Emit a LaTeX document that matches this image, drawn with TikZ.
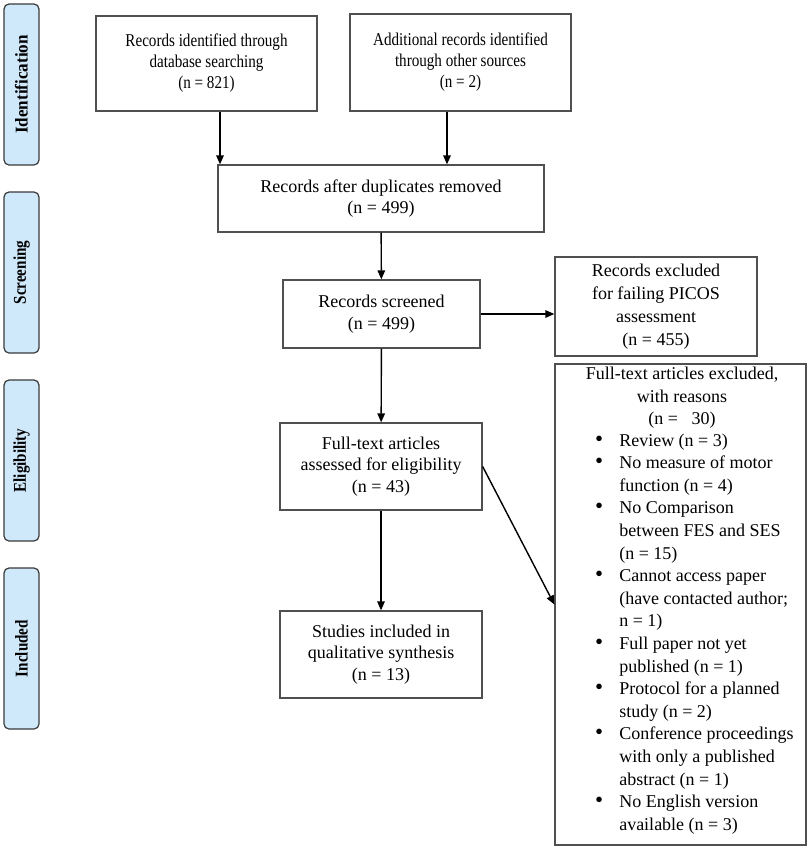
\documentclass[tikz,border=0pt]{standalone}
\usepackage{fontspec}
\setmainfont{Liberation Serif}
\newfontfamily\condfont[FakeStretch=0.84]{Liberation Serif}
\newfontfamily\sidefontA[FakeStretch=0.95]{Liberation Serif}
\newfontfamily\sidefontB[FakeStretch=0.84]{Liberation Serif}
\usetikzlibrary{arrows.meta}
\definecolor{sidefill}{HTML}{CFE8FA}
\definecolor{sidedraw}{HTML}{3A3A3A}
\definecolor{boxgray}{HTML}{505050}
\begin{document}
\begin{tikzpicture}[x=1pt,y=-1pt,
  side/.style={draw=sidedraw, fill=sidefill, rounded corners=5pt, line width=1.2pt,
    minimum width=161, minimum height=35, inner sep=0pt, rotate=90,
    font=\sidefontB\fontsize{18}{20}\selectfont\bfseries},
  box/.style={draw=boxgray, line width=1.3pt, align=center, inner sep=0pt,
    font=\fontsize{18}{21.5}\selectfont},
  smallbox/.style={box, font=\condfont\fontsize{18}{21}\selectfont},
  arr/.style={draw=black, line width=1.4pt, -{Triangle[length=9pt,width=7.5pt]}}]
\useasboundingbox (0,0) rectangle (809,849);

% side labels
\node[side, font=\sidefontA\fontsize{18}{20}\selectfont\bfseries] (idlab) at (21.5,84.5) {Identification};
\node[side] (scrlab) at (21.5,272.5) {Screening};
\node[side] (elilab) at (21.5,460.5) {Eligibility};
\node[side] (inclab) at (21.5,648.5) {Included};

% boxes
\node[smallbox, minimum width=221, minimum height=95] (b1) at (206.5,63.5)
  {Records identified through\\database searching\\(n = 821)};
\node[smallbox, minimum width=221, minimum height=97] (b2) at (460.5,62.5)
  {Additional records identified\\through other sources\\(n = 2)};
\node[box, minimum width=326, minimum height=67] (b3) at (381,198.5)
  {Records after duplicates removed\\(n = 499)};
\node[box, minimum width=197, minimum height=68] (b4) at (381.5,314)
  {Records screened\\(n = 499)};
\node[box, minimum width=202, minimum height=87] (b5) at (381,466.5)
  {Full-text articles\\assessed for eligibility\\(n = 43)};
\node[box, minimum width=202, minimum height=87] (b6) at (381,654.5)
  {Studies included in\\qualitative synthesis\\(n = 13)};
\node[box, minimum width=202, minimum height=99, font=\fontsize{18}{23}\selectfont] (p1) at (656,306.5)
  {Records excluded\\for failing PICOS\\assessment\\(n = 455)};
\node[box, minimum width=251, minimum height=481] (e1) at (680.5,604.5) {};
\node[align=center, inner sep=0pt, font=\fontsize{18}{22.6}\selectfont] (e1h) at (682,398)
  {Full-text articles excluded,\\with reasons\\(n =\ \ \ 30)};
\newcommand{\blt}{{\fontsize{23}{20}\selectfont\textbullet}}
\node[anchor=north west, inner sep=0pt, font=\fontsize{18}{22.6}\selectfont] (e1l) at (595,430)
  {\begin{tabular}{@{}l@{\hspace{16pt}}l@{}}
  \blt & Review (n = 3)\\
  \blt & No measure of motor\\
   & function (n = 4)\\
  \blt & No Comparison\\
   & between FES and SES\\
   & (n = 15)\\
  \blt & Cannot access paper\\
   & (have contacted author;\\
   & n = 1)\\
  \blt & Full paper not yet\\
   & published (n = 1)\\
  \blt & Protocol for a planned\\
   & study (n = 2)\\
  \blt & Conference proceedings\\
   & with only a published\\
   & abstract (n = 1)\\
  \blt & No English version\\
   & available (n = 3)
  \end{tabular}};

% connectors
\coordinate (c1) at (220,0);
\coordinate (c2) at (447,0);
\draw[arr] (b1.south -| c1) -- (b3.north -| c1);
\draw[arr] (b2.south -| c2) -- (b3.north -| c2);
\draw[arr] (b3) -- (b4);
\draw[arr] (b4.east) -- (b4.east -| p1.west);
\draw[arr] (b4) -- (b5);
\draw[arr] (b5) -- (b6);
\draw[arr] (b5.east) -- (e1.west);
\end{tikzpicture}
\end{document}
